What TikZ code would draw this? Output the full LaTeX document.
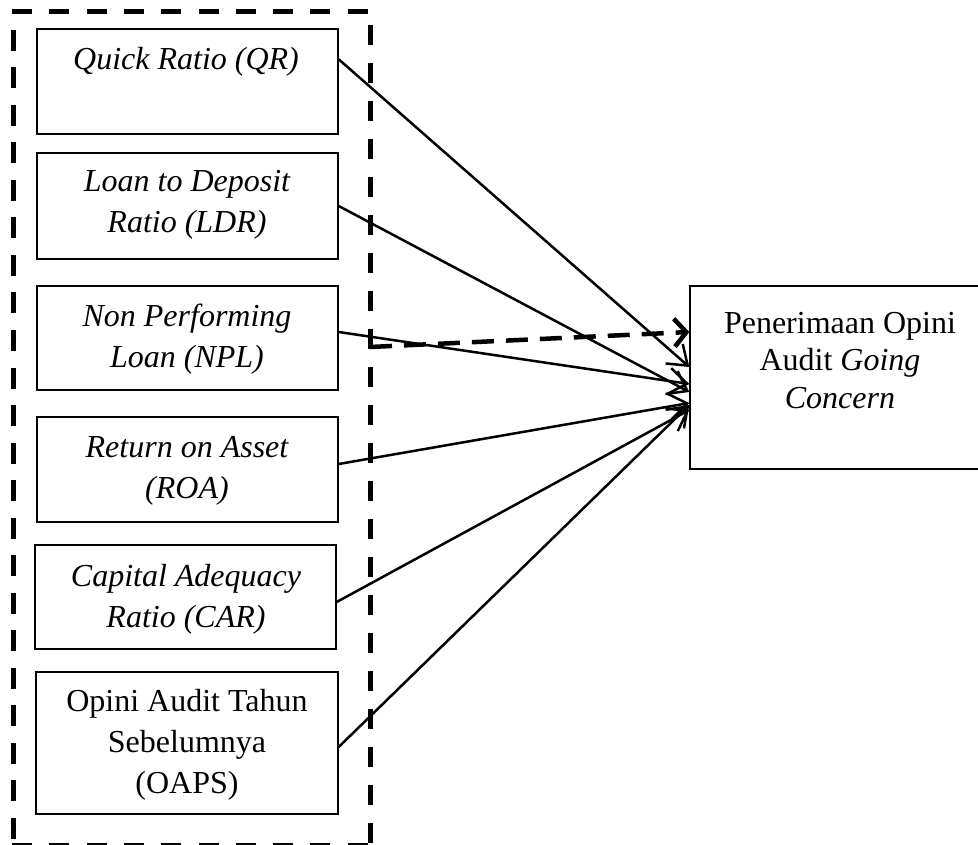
\documentclass[tikz,border=0pt]{standalone}
\usepackage{fontspec}
\setmainfont{Liberation Serif}
\usetikzlibrary{arrows.meta}
\begin{document}
\begin{tikzpicture}[x=1pt,y=-1pt,
 frame/.style={draw, line width=1.4pt, inner sep=0pt},
 txt/.style={align=center, font=\fontsize{32}{41}\selectfont, inner sep=0pt, anchor=base},
 arr/.style={line width=2.5pt, -{Straight Barb[length=18pt,width=26pt]}},
 grpline/.style={line width=5pt, dash pattern=on 20pt off 17.3pt},
 dasharr/.style={line width=4.5pt, dash pattern=on 22pt off 12pt, -{Straight Barb[length=12pt,width=28pt]}},
]
\useasboundingbox (0,0) rectangle (978,845);
% group frame (dashed)
\coordinate (gtl) at (12,12);
\coordinate (gtr) at (370,12);
\coordinate (gl0) at (13,30);
\coordinate (gl1) at (13,845);
\coordinate (gr0) at (370,25);
\coordinate (gr1) at (370,845);
\coordinate (gbl) at (12,845);
\coordinate (gbr) at (370,845);
\draw[grpline] (gtl) -- (gtr);
\draw[grpline, dash pattern=on 21pt off 16.5pt] (gl0) -- (gl1);
\draw[grpline, dash pattern=on 20pt off 18pt] (gr0) -- (gr1);
\draw[grpline] (gbl) -- (gbr);
% boxes
\node[frame, minimum width=301pt, minimum height=105pt] (b1) at (187.5,81.5) {};
\node[frame, minimum width=301pt, minimum height=106pt] (b2) at (187.5,206) {};
\node[frame, minimum width=301pt, minimum height=104pt] (b3) at (187.5,338) {};
\node[frame, minimum width=301pt, minimum height=105pt] (b4) at (187.5,469.5) {};
\node[frame, minimum width=301pt, minimum height=104pt] (b5) at (185.5,597) {};
\node[frame, minimum width=302pt, minimum height=142pt] (b6) at (187,743) {};
\node[frame, minimum width=300pt, minimum height=183pt] (tgt) at (840,377.5) {};
% texts (anchor base = last line)
\node[txt] (t1) at (186,70) {\itshape Quick Ratio (QR)};
\node[txt] (t2) at (187,233) {\itshape Loan to Deposit\\\itshape Ratio (LDR)};
\node[txt] (t3) at (187,367) {\itshape Non Performing\\\itshape Loan (NPL)};
\node[txt] (t4) at (187,498) {\itshape Return on Asset\\\itshape (ROA)};
\node[txt] (t5) at (186,627) {\itshape Capital Adequacy\\\itshape Ratio (CAR)};
\node[txt] (t6) at (187,793) {Opini Audit Tahun\\Sebelumnya\\(OAPS)};
\node[txt, font=\fontsize{32}{37.5}\selectfont] (tt) at (840,408) {Penerimaan Opini\\Audit \textit{Going}\\\textit{Concern}};
% connectors
\draw[arr] ([yshift=-31pt]b1.north east) -- ([yshift=10.5pt]tgt.west);
\draw[arr] (b2.east) -- ([yshift=-14.5pt]tgt.west);
\draw[arr] ([yshift=6pt]b3.east) -- ([yshift=-6.5pt]tgt.west);
\draw[arr] ([yshift=5.5pt]b4.east) -- ([yshift=-25.5pt]tgt.west);
\draw[arr] ([yshift=-5pt]b5.east) -- ([yshift=-32.5pt]tgt.west);
\draw[arr] ([yshift=-4pt]b6.east) -- ([yshift=-27.5pt]tgt.west);
\coordinate (ds) at (370,347);
\draw[dasharr] (ds) -- ([yshift=45.5pt]tgt.west);
\end{tikzpicture}
\end{document}
